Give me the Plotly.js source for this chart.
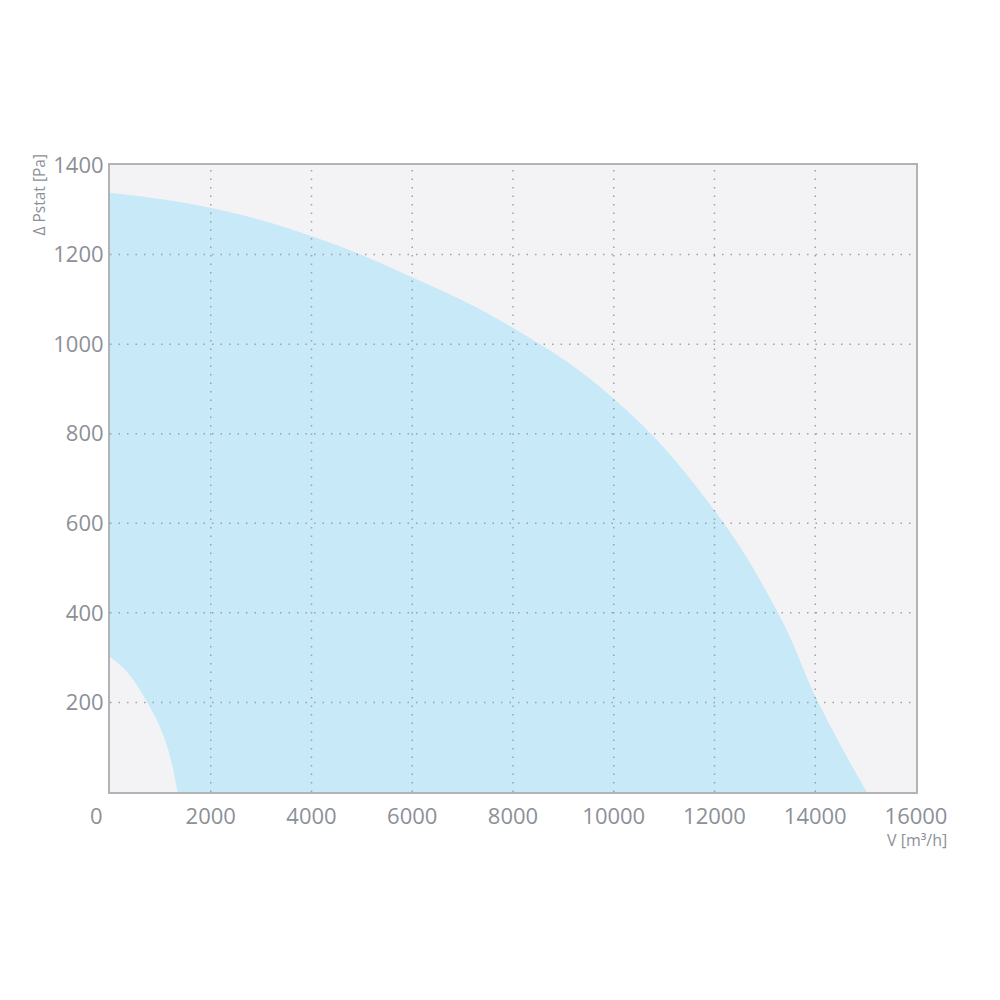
<!DOCTYPE html>
<html>
<head>
<meta charset="utf-8">
<script src="https://cdn.plot.ly/plotly-3.0.1.min.js"></script>
<style>html,body{margin:0;padding:0;background:#fff;}#chart{width:1000px;height:1000px;}</style>
</head>
<body>
<div id="chart"></div>
<script>
// Upper limit curve (flow m3/h, pressure Pa)
const outerFlow = [0, 2000, 4000, 6000, 8000, 10020, 11880, 13250, 14050, 15010];
const outerPress = [1337, 1303, 1240, 1148, 1035, 875, 645, 400, 200, 0];
// Lower limit curve
const innerFlow = [0, 300, 730, 1090, 1330];
const innerPress = [300, 272, 200, 114, 0];

const xTicks = [2000, 4000, 6000, 8000, 10000, 12000, 14000, 16000];
const yTicks = [200, 400, 600, 800, 1000, 1200, 1400];
const xGrid = [2000, 4000, 6000, 8000, 10000, 12000, 14000];
const yGrid = [200, 400, 600, 800, 1000, 1200];

const fontFam = '"Open Sans", "DejaVu Sans", sans-serif';
const gray = '#8c9098';
const gridColor = '#9ea2a8';
const plotBg = '#f3f3f5';
const fillBlue = '#c8e9f8';

const shapes = [];
xGrid.forEach(v => shapes.push({type:'line', xref:'x', yref:'paper', x0:v, x1:v, y0:0, y1:1, layer:'above', line:{color:gridColor, width:1.5, dash:'1.5px,7px'}}));
yGrid.forEach(v => shapes.push({type:'line', xref:'paper', yref:'y', x0:0, x1:1, y0:v, y1:v, layer:'above', line:{color:gridColor, width:1.5, dash:'1.5px,7px'}}));

const data = [
  {x: outerFlow, y: outerPress, type:'scatter', mode:'lines',
   line:{shape:'spline', smoothing:1.2, width:1, color:fillBlue},
   fill:'tozeroy', fillcolor:fillBlue, hoverinfo:'skip', showlegend:false},
  {x: innerFlow, y: innerPress, type:'scatter', mode:'lines',
   line:{shape:'spline', smoothing:1.2, width:1, color:plotBg},
   fill:'tozeroy', fillcolor:plotBg, hoverinfo:'skip', showlegend:false}
];

const layout = {
  width:1000, height:1000,
  margin:{l:110, r:84, t:165, b:208},
  paper_bgcolor:'#ffffff', plot_bgcolor:plotBg,
  showlegend:false,
  font:{family:fontFam, color:gray},
  xaxis:{range:[0,16000], tickvals:xTicks, ticktext:xTicks.map(String), showgrid:false, zeroline:false,
         showline:true, mirror:true, linecolor:'#b3b3b6', linewidth:2, ticks:'', ticklen:0, ticklabelstandoff:4,
         tickfont:{size:22, color:gray, family:fontFam}, layer:'above traces'},
  yaxis:{range:[0,1400], tickvals:yTicks, ticktext:yTicks.map(String), showgrid:false, zeroline:false,
         showline:true, mirror:true, linecolor:'#b3b3b6', linewidth:2, ticks:'', ticklen:0,
         tickfont:{size:22, color:gray, family:fontFam}, layer:'above traces'},
  shapes: shapes,
  annotations:[
    {text:'0', xref:'paper', yref:'paper', x:0, y:0, xshift:-14, yshift:-23, showarrow:false, xanchor:'center', yanchor:'middle', font:{size:22, color:gray, family:fontFam}},
    {text:'V [m³/h]', xref:'paper', yref:'paper', x:1, y:0, xshift:1, yshift:-48, showarrow:false, xanchor:'center', yanchor:'middle', font:{size:16, color:gray, family:fontFam}},
    {text:'Δ Pstat [Pa]', xref:'paper', yref:'paper', x:0, y:1, xshift:-72, yshift:12, showarrow:false, textangle:-90, xanchor:'center', yanchor:'top', font:{size:15.5, color:gray, family:fontFam}}
  ]
};

Plotly.newPlot('chart', data, layout, {displayModeBar:false, staticPlot:true});
</script>
</body>
</html>
